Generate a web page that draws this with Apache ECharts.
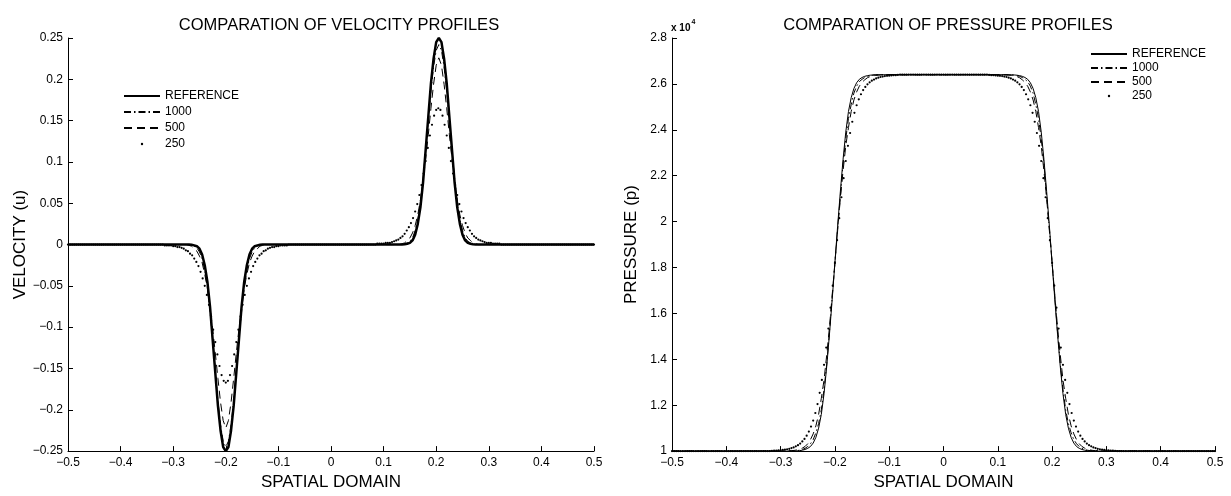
<!DOCTYPE html>
<html><head><meta charset="utf-8">
<script src="https://cdn.jsdelivr.net/npm/echarts@6/dist/echarts.min.js"></script>
<style>html,body{margin:0;padding:0;background:#fff}#c{width:1231px;height:496px}</style>
</head><body><div id="c"></div>
<script>
// ---------- DATA ----------
const SERIES_NAMES = ['REFERENCE', '1000', '500', '250'];
const TITLE_V = 'COMPARATION OF VELOCITY PROFILES';
const TITLE_P = 'COMPARATION OF PRESSURE PROFILES';
const X_NAME = 'SPATIAL DOMAIN';
const YV_NAME = 'VELOCITY (u)';
const YP_NAME = 'PRESSURE (p)';
const P_EXPONENT = '{b|x 10}{s|4}';

// x grid for the velocity line curves
const VX = [-0.5,
 -0.29,-0.285,-0.28,-0.275,-0.27,-0.265,-0.26,-0.255,-0.25,-0.245,-0.24,-0.235,-0.23,-0.225,-0.22,-0.215,-0.21,-0.205,-0.2,
 -0.195,-0.19,-0.185,-0.18,-0.175,-0.17,-0.165,-0.16,-0.155,-0.15,-0.145,-0.14,-0.135,-0.13,-0.125,-0.12,-0.115,-0.11,
 0,
 0.115,0.12,0.125,0.13,0.135,0.14,0.145,0.15,0.155,0.16,0.165,0.17,0.175,0.18,0.185,0.19,0.195,0.2,0.205,
 0.21,0.215,0.22,0.225,0.23,0.235,0.24,0.245,0.25,0.255,0.26,0.265,0.27,0.275,0.28,0.285,0.29,0.295,
 0.5];
const V_REF = [0,
 0,0,0,0,0,-0.0003,-0.001,-0.002,-0.005,-0.012,-0.025,-0.045,-0.075,-0.115,-0.155,-0.195,-0.225,-0.245,-0.25,
 -0.245,-0.225,-0.195,-0.155,-0.115,-0.075,-0.045,-0.025,-0.012,-0.005,-0.002,-0.001,-0.0003,0,0,0,0,0,
 0,
 0,0,0,0,0,0.0003,0.001,0.002,0.005,0.012,0.025,0.045,0.075,0.115,0.155,0.195,0.225,0.245,0.25,
 0.245,0.225,0.195,0.155,0.115,0.075,0.045,0.025,0.012,0.005,0.002,0.001,0.0003,0,0,0,0,0,
 0];
const V_1000 = [0,
 0,0,0,0,0,-0.001,-0.002,-0.004,-0.009,-0.017,-0.031,-0.051,-0.081,-0.115,-0.152,-0.189,-0.218,-0.238,-0.245,
 -0.238,-0.218,-0.189,-0.152,-0.115,-0.081,-0.051,-0.031,-0.017,-0.009,-0.004,-0.002,-0.001,0,0,0,0,0,
 0,
 0,0,0,0,0,0.001,0.002,0.004,0.008,0.017,0.030,0.051,0.080,0.114,0.150,0.186,0.215,0.235,0.242,
 0.235,0.215,0.186,0.150,0.114,0.080,0.051,0.030,0.017,0.008,0.004,0.002,0.001,0,0,0,0,0,
 0];
const V_500 = [0,
 0,0,0,0,-0.001,-0.002,-0.005,-0.008,-0.014,-0.022,-0.036,-0.053,-0.076,-0.102,-0.131,-0.162,-0.191,-0.213,-0.222,
 -0.213,-0.191,-0.162,-0.131,-0.102,-0.076,-0.053,-0.036,-0.022,-0.014,-0.008,-0.005,-0.002,-0.001,0,0,0,0,
 0,
 0,0,0,0,0.001,0.002,0.005,0.008,0.014,0.023,0.036,0.054,0.077,0.104,0.133,0.165,0.194,0.217,0.226,
 0.217,0.194,0.165,0.133,0.104,0.077,0.054,0.036,0.023,0.014,0.008,0.005,0.002,0.001,0,0,0,0,
 0];

// 250-point solution: x = -0.5 + 0.004*k, k = 0..250 (values listed 10 per row)
const X250_START = -0.5, X250_STEP = 0.004;
const V_250 = [
 0,0,0,0,0,0,0,0,0,0,
 0,0,0,0,0,0,0,0,0,0,
 0,0,0,0,0,0,0,0,0,0,
 0,0,0,0,0,0,0,0,0,0,
 0,0,0,0,0,0,-0.001,-0.001,-0.001,-0.001,
 -0.002,-0.002,-0.003,-0.003,-0.004,-0.005,-0.007,-0.008,-0.011,-0.013,
 -0.017,-0.021,-0.026,-0.033,-0.041,-0.050,-0.061,-0.073,-0.087,-0.103,
 -0.118,-0.133,-0.147,-0.158,-0.165,-0.167,-0.165,-0.158,-0.147,-0.133,
 -0.118,-0.103,-0.087,-0.073,-0.061,-0.050,-0.041,-0.033,-0.026,-0.021,
 -0.017,-0.013,-0.011,-0.008,-0.007,-0.005,-0.004,-0.003,-0.003,-0.002,
 -0.002,-0.001,-0.001,-0.001,-0.001,0,0,0,0,0,
 0,0,0,0,0,0,0,0,0,0,
 0,0,0,0,0,0,0,0,0,0,
 0,0,0,0,0,0,0,0,0,0,
 0,0,0,0,0,0,0,0.001,0.001,0.001,
 0.001,0.002,0.002,0.002,0.003,0.004,0.005,0.006,0.008,0.010,
 0.013,0.017,0.021,0.026,0.032,0.040,0.049,0.060,0.072,0.086,
 0.101,0.117,0.132,0.145,0.156,0.163,0.165,0.163,0.156,0.145,
 0.132,0.117,0.101,0.086,0.072,0.060,0.049,0.040,0.032,0.026,
 0.021,0.017,0.013,0.010,0.008,0.006,0.005,0.004,0.003,0.002,
 0.002,0.002,0.001,0.001,0.001,0.001,0,0,0,0,
 0,0,0,0,0,0,0,0,0,0,
 0,0,0,0,0,0,0,0,0,0,
 0,0,0,0,0,0,0,0,0,0,
 0,0,0,0,0,0,0,0,0,0,
 0];

// pressure (units of 1e4)
const PX = [-0.5,
 -0.29,-0.285,-0.28,-0.275,-0.27,-0.265,-0.26,-0.255,-0.25,-0.245,-0.24,-0.235,-0.23,-0.225,-0.22,-0.215,-0.21,-0.205,-0.2,
 -0.195,-0.19,-0.185,-0.18,-0.175,-0.17,-0.165,-0.16,-0.155,-0.15,-0.145,-0.14,-0.135,-0.13,-0.125,-0.12,-0.115,-0.11,
 0,
 0.11,0.115,0.12,0.125,0.13,0.135,0.14,0.145,0.15,0.155,0.16,0.165,0.17,0.175,0.18,0.185,0.19,0.195,0.2,
 0.205,0.21,0.215,0.22,0.225,0.23,0.235,0.24,0.245,0.25,0.255,0.26,0.265,0.27,0.275,0.28,0.285,0.29,
 0.5];
const P_REF = [1.0,
 1.0,1.0,1.0,1.0,1.001,1.002,1.004,1.007,1.012,1.02,1.035,1.06,1.10,1.16,1.25,1.37,1.51,1.66,1.82,
 1.98,2.13,2.27,2.39,2.48,2.54,2.58,2.605,2.62,2.628,2.633,2.636,2.638,2.639,2.64,2.64,2.64,2.64,
 2.64,
 2.64,2.64,2.64,2.64,2.639,2.638,2.636,2.633,2.628,2.62,2.605,2.58,2.54,2.48,2.39,2.27,2.13,1.98,1.82,
 1.66,1.51,1.37,1.25,1.16,1.10,1.06,1.035,1.02,1.012,1.007,1.004,1.002,1.001,1.0,1.0,1.0,1.0,
 1.0];
const P_1000 = [1.0,
 1.0,1.0,1.001,1.001,1.002,1.004,1.007,1.012,1.02,1.032,1.05,1.08,1.12,1.18,1.27,1.38,1.52,1.67,1.82,
 1.97,2.11,2.25,2.36,2.45,2.51,2.56,2.59,2.61,2.62,2.628,2.633,2.636,2.638,2.639,2.64,2.64,2.64,
 2.64,
 2.64,2.64,2.64,2.639,2.638,2.636,2.633,2.628,2.62,2.61,2.59,2.56,2.51,2.45,2.36,2.25,2.11,1.97,1.82,
 1.67,1.52,1.38,1.27,1.18,1.12,1.08,1.05,1.032,1.02,1.012,1.007,1.004,1.002,1.001,1.001,1.0,1.0,
 1.0];
const P_500 = [1.0,
 1.0,1.001,1.002,1.003,1.005,1.008,1.013,1.02,1.032,1.05,1.075,1.11,1.16,1.23,1.31,1.42,1.54,1.68,1.82,
 1.96,2.10,2.22,2.33,2.41,2.48,2.53,2.565,2.59,2.607,2.618,2.627,2.632,2.635,2.637,2.638,2.639,2.64,
 2.64,
 2.64,2.639,2.638,2.637,2.635,2.632,2.627,2.618,2.607,2.59,2.565,2.53,2.48,2.41,2.33,2.22,2.10,1.96,1.82,
 1.68,1.54,1.42,1.31,1.23,1.16,1.11,1.075,1.05,1.032,1.02,1.013,1.008,1.005,1.003,1.002,1.001,1.0,
 1.0];
const P_250 = [
 1,1,1,1,1,1,1,1,1,1,
 1,1,1,1,1,1,1,1,1,1,
 1,1,1,1,1,1,1,1,1,1,
 1,1,1,1,1,1,1,1,1,1,
 1,1,1,1,1,1,1.001,1.002,1.002,1.003,
 1.004,1.005,1.006,1.008,1.010,1.013,1.016,1.021,1.026,1.033,
 1.042,1.053,1.067,1.085,1.107,1.133,1.166,1.205,1.254,1.310,
 1.376,1.451,1.534,1.625,1.721,1.82,1.919,2.015,2.106,2.189,
 2.264,2.330,2.386,2.435,2.474,2.507,2.533,2.555,2.573,2.587,
 2.598,2.607,2.614,2.619,2.624,2.627,2.630,2.632,2.634,2.635,
 2.636,2.637,2.638,2.638,2.639,2.64,2.64,2.64,2.64,2.64,
 2.64,2.64,2.64,2.64,2.64,2.64,2.64,2.64,2.64,2.64,
 2.64,2.64,2.64,2.64,2.64,2.64,2.64,2.64,2.64,2.64,
 2.64,2.64,2.64,2.64,2.64,2.64,2.64,2.64,2.64,2.64,
 2.64,2.64,2.64,2.64,2.64,2.64,2.639,2.638,2.638,2.637,
 2.636,2.635,2.634,2.632,2.630,2.627,2.624,2.619,2.614,2.607,
 2.598,2.587,2.573,2.555,2.533,2.507,2.474,2.435,2.386,2.330,
 2.264,2.189,2.106,2.015,1.919,1.82,1.721,1.625,1.534,1.451,
 1.376,1.310,1.254,1.205,1.166,1.133,1.107,1.085,1.067,1.053,
 1.042,1.033,1.026,1.021,1.016,1.013,1.010,1.008,1.006,1.005,
 1.004,1.003,1.002,1.002,1.001,1,1,1,1,1,
 1,1,1,1,1,1,1,1,1,1,
 1,1,1,1,1,1,1,1,1,1,
 1,1,1,1,1,1,1,1,1,1,
 1,1,1,1,1,1,1,1,1,1,
 1];

// ---------- CHART ----------
const FONT = '"Liberation Sans", Arial, Helvetica, sans-serif';
function pairs(xs, ys) { return ys.map((y, i) => [xs[i], y]); }
function grid250(ys) { return ys.map((y, k) => [+(X250_START + X250_STEP * k).toFixed(3), y]); }
function fmt(v, d) {
  const s = String(+v.toFixed(d));
  return s.replace('-', '\u2212');
}

const axisBase = {
  type: 'value',
  axisLine: { show: true, onZero: false, lineStyle: { color: '#000', width: 1 } },
  axisTick: { show: true, inside: true, length: 5, lineStyle: { color: '#000', width: 1 } },
  splitLine: { show: false },
  axisLabel: { color: '#000', fontSize: 12, fontFamily: FONT },
  nameTextStyle: { color: '#000', fontSize: 17, fontFamily: FONT },
};

function lineSeries(name, gi, data, style) {
  return {
    type: 'line', name: name, xAxisIndex: gi, yAxisIndex: gi, data: data,
    symbol: 'none', animation: false, silent: true, clip: true,
    lineStyle: Object.assign({ color: '#000', width: 1 }, style),
    itemStyle: { color: '#000' }
  };
}
function dotSeries(name, gi, data) {
  return {
    type: 'line', name: name, xAxisIndex: gi, yAxisIndex: gi, data: data,
    symbol: 'circle', symbolSize: 2.2, showSymbol: true, showAllSymbol: true,
    animation: false, silent: true, clip: true,
    lineStyle: { width: 0, opacity: 0, color: '#000' },
    itemStyle: { color: '#000' }
  };
}

const DASHDOT = [7, 3, 1.5, 3];
const DASH = [8, 5];

function legendFor(prefix, left, top, gap) {
  return {
    orient: 'vertical', left: left, top: top, itemWidth: 36, itemHeight: 3, itemGap: gap,
    selectedMode: false,
    data: SERIES_NAMES.map((n, i) => ({ name: prefix + n, itemStyle: i === 3 ? undefined : { opacity: 0 } })),
    formatter: name => name.slice(2),
    textStyle: { color: '#000', fontSize: 12, fontFamily: FONT }
  };
}

const titleStyle = { color: '#000', fontSize: 16.5, fontWeight: 'normal', fontFamily: FONT };
const option = {
  backgroundColor: '#fff',
  animation: false,
  title: [
    { text: TITLE_V, left: 334, top: 12, textAlign: 'center', textStyle: titleStyle },
    { text: TITLE_P, left: 943, top: 12, textAlign: 'center', textStyle: titleStyle },
    { text: P_EXPONENT, left: 671, top: 19, padding: 0,
      textStyle: { rich: {
        b: { fontSize: 10, fontFamily: FONT, color: '#000', lineHeight: 14, verticalAlign: 'bottom' },
        s: { fontSize: 7, fontFamily: FONT, color: '#000', lineHeight: 14, verticalAlign: 'top', padding: [0, 0, 0, 1] } } } }
  ],
  legend: [ legendFor('v:', 118, 85, 4), legendFor('p:', 1085, 43, 2) ],
  grid: [
    { left: 68, top: 38, width: 526, height: 419 },
    { left: 672, top: 38, width: 543, height: 419 }
  ],
  xAxis: [
    Object.assign({}, axisBase, { gridIndex: 0, min: -0.5, max: 0.5, interval: 0.1, name: X_NAME, nameLocation: 'middle', nameGap: 20,
      axisLabel: Object.assign({}, axisBase.axisLabel, { margin: 6, formatter: v => fmt(v, 2) }) }),
    Object.assign({}, axisBase, { gridIndex: 1, min: -0.5, max: 0.5, interval: 0.1, name: X_NAME, nameLocation: 'middle', nameGap: 20,
      axisLabel: Object.assign({}, axisBase.axisLabel, { margin: 6, formatter: v => fmt(v, 2) }) })
  ],
  yAxis: [
    Object.assign({}, axisBase, { gridIndex: 0, min: -0.25, max: 0.25, interval: 0.05, name: YV_NAME, nameLocation: 'middle', nameGap: 37,
      axisLabel: Object.assign({}, axisBase.axisLabel, { margin: 5, formatter: v => fmt(v, 3) }) }),
    Object.assign({}, axisBase, { gridIndex: 1, min: 1, max: 2.8, interval: 0.2, name: YP_NAME, nameLocation: 'middle', nameGap: 32,
      axisLabel: Object.assign({}, axisBase.axisLabel, { margin: 5, formatter: v => fmt(v, 2) }) })
  ],
  series: [
    lineSeries('v:REFERENCE', 0, pairs(VX, V_REF), { width: 2.5 }),
    lineSeries('v:1000', 0, pairs(VX, V_1000), { type: DASHDOT }),
    lineSeries('v:500', 0, pairs(VX, V_500), { type: DASH }),
    dotSeries('v:250', 0, grid250(V_250)),
    lineSeries('p:REFERENCE', 1, pairs(PX, P_REF), { width: 1 }),
    lineSeries('p:1000', 1, pairs(PX, P_1000), { type: DASHDOT }),
    lineSeries('p:500', 1, pairs(PX, P_500), { type: DASH }),
    dotSeries('p:250', 1, grid250(P_250))
  ]
};

const chart = echarts.init(document.getElementById('c'), null, { renderer: 'canvas' });
chart.setOption(option);
</script>
</body></html>
